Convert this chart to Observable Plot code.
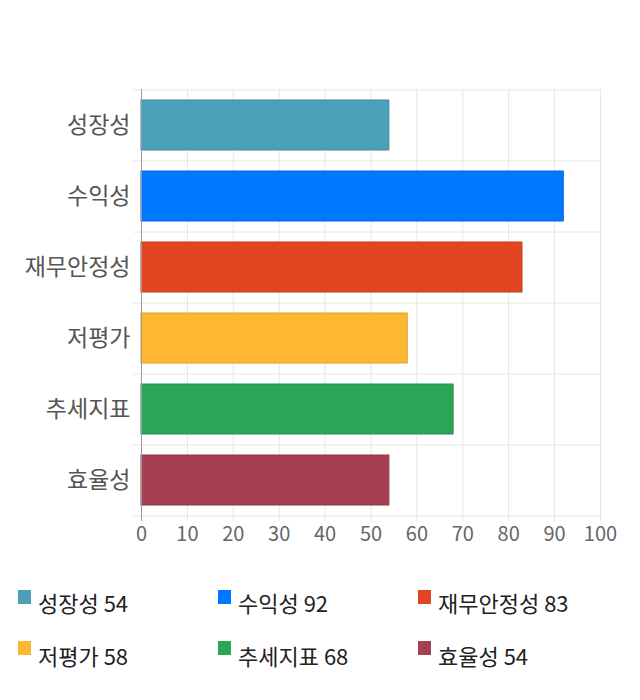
<!DOCTYPE html>
<html><head><meta charset="utf-8">
<script src="https://cdn.jsdelivr.net/npm/d3@7"></script>
<script src="https://cdn.jsdelivr.net/npm/@observablehq/plot@0.6"></script>
<style>
body{margin:0;background:#fff;font-family:"Noto Sans CJK KR","Noto Sans",sans-serif;}
#chart svg{display:block}
#legend{position:relative;width:640px;height:140px}
.sw{position:absolute;width:13px;height:14px}
.lt{position:absolute;font-size:22px;line-height:22px;color:#222;white-space:nowrap}
</style></head><body>
<div id="chart"></div>
<div id="legend"></div>
<script>
const categories = ["성장성","수익성","재무안정성","저평가","추세지표","효율성"];
const values = [54, 92, 83, 58, 68, 54];
const colors = ["#4ba0b9","#0077ff","#e24522","#fdb733","#2aa657","#a4404f"];
const strokes = ["#3f8aa0","#0066dd","#c43a1c","#e0a02b","#23904b","#8d3644"];
const xTicks = [0,10,20,30,40,50,60,70,80,90,100];

const data = categories.map((c,i)=>({cat:c, value:values[i], color:colors[i], stroke:strokes[i]}));
const svgH = 560, mTop = 89, mBottom = 45;
const step = (svgH - mTop - mBottom) / 6;

const chart = Plot.plot({
  width: 640, height: svgH,
  marginLeft: 141, marginRight: 40, marginTop: mTop, marginBottom: mBottom,
  style: {fontFamily: '"Noto Sans CJK KR","Noto Sans",sans-serif', background: "#fff"},
  x: {domain: [0,100], ticks: xTicks, axis: null, label: null},
  y: {domain: categories, paddingInner: 0.3, paddingOuter: 0.15, axis: null, label: null},
  marks: [
    Plot.ruleX(xTicks, {x: d=>d, stroke: "#e6e6e6", insetBottom: -6}),
    Plot.ruleY(categories, {y: d=>d, dy: -step/2, stroke: "#e6e6e6", insetLeft: -8}),
    Plot.ruleY([categories[categories.length-1]], {y: d=>d, dy: step/2, stroke: "#e6e6e6", insetLeft: -8}),
    Plot.barX(data, {y: "cat", x: "value", fill: "color", stroke: "stroke", strokeWidth: 1}),
    Plot.ruleX([0], {stroke: "#999", insetBottom: -6}),
    Plot.axisX({ticks: xTicks, tickSize: 0, tickPadding: 11, fontSize: 20, color: "#666", anchor: "bottom", label: null}),
    Plot.axisY({tickSize: 0, tickPadding: 11, fontSize: 23, color: "#555", anchor: "left", label: null})
  ]
});
document.getElementById("chart").appendChild(chart);

const leg = document.getElementById("legend");
categories.forEach((c,i)=>{
  const col = i % 3, row = Math.floor(i/3);
  const sw = document.createElement("div");
  sw.className = "sw";
  sw.style.background = colors[i];
  sw.style.left = (18 + col*200) + "px";
  sw.style.top = (30 + row*51) + "px";
  leg.appendChild(sw);
  const t = document.createElement("div");
  t.className = "lt";
  t.style.left = (38 + col*200) + "px";
  t.style.top = (31 + row*53) + "px";
  t.textContent = `${c} ${values[i]}`;
  leg.appendChild(t);
});
</script>
</body></html>
